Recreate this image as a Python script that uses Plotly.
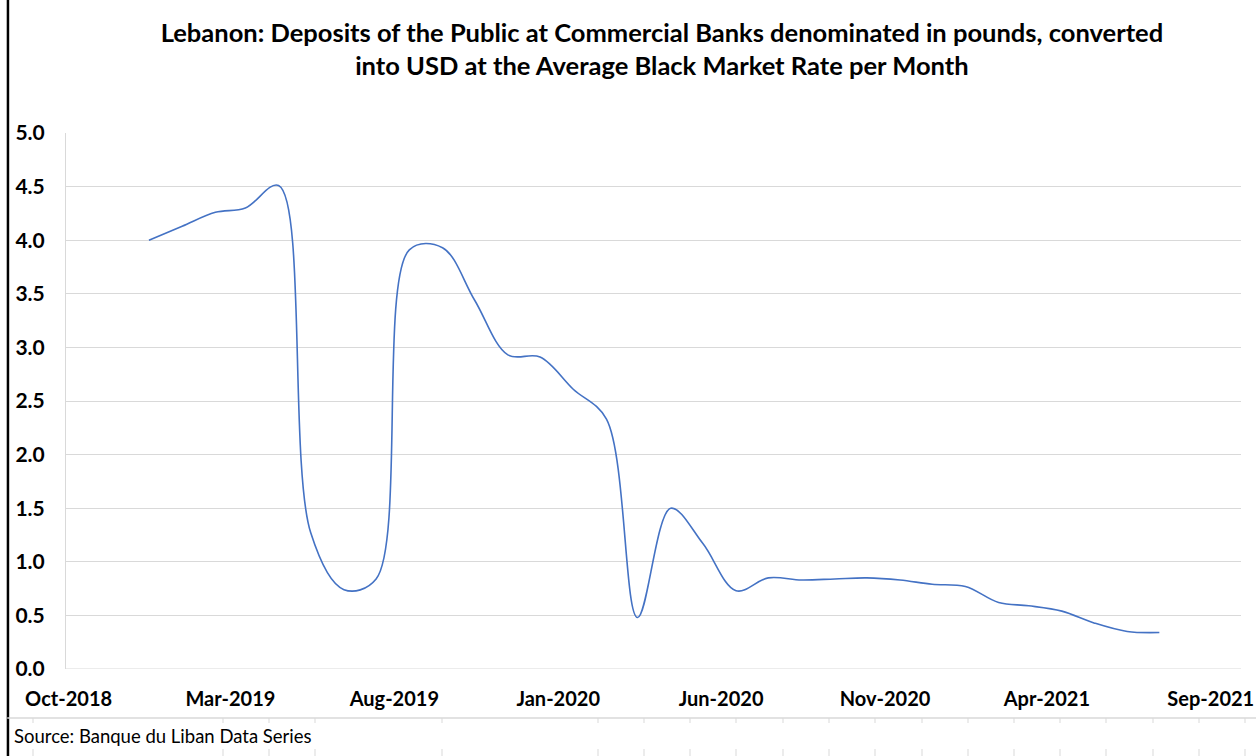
import pandas as pd
import plotly.graph_objects as go

# monthly observations, Dec-2018 .. Jul-2021 (USD bn)
months = pd.date_range("2018-12-01", "2021-07-01", freq="MS") + pd.Timedelta(days=14)
deposits_usd = [
    4.00, 4.13, 4.26, 4.30, 4.51, 1.27, 0.74, 0.84, 3.91, 3.93, 3.44, 2.93,
    2.91, 2.61, 2.33, 0.48, 1.50, 1.17, 0.73, 0.85, 0.83, 0.84, 0.85, 0.83,
    0.79, 0.77, 0.62, 0.59, 0.54, 0.43, 0.35, 0.34,
]

title_lines = [
    "Lebanon: Deposits of the Public at Commercial Banks denominated in pounds, converted",
    "into USD at the Average Black Market Rate per Month",
]
source_note = "Source: Banque du Liban Data Series"

FONT = "Lato"
GRID = "#d9d9d9"

fig = go.Figure()
fig.add_trace(go.Scatter(
    x=months, y=deposits_usd, mode="lines",
    line=dict(color="#4472c4", width=1.6, shape="spline", smoothing=1.0),
    hoverinfo="x+y", showlegend=False,
))

fig.update_layout(
    width=1256, height=756,
    margin=dict(l=66, r=15, t=133, b=87),
    paper_bgcolor="white", plot_bgcolor="white",
    font=dict(family=FONT, color="black"),
    title=dict(
        text="<b>" + "<br>".join(title_lines) + "</b>",
        x=0.527, xanchor="center", y=0.9446, yanchor="middle",
        font=dict(family=FONT, size=25.5, color="black"),
    ),
    xaxis=dict(
        type="date",
        range=["2018-09-28 14:00", "2021-09-29 05:00"],
        tick0="2018-10-01", dtick="M5", tickformat="%b-%Y",
        showgrid=False, zeroline=False, showline=False,
        ticks="outside", ticklen=12, tickcolor="rgba(0,0,0,0)",
        ticklabeloverflow="allow", automargin=False,
        tickfont=dict(family=FONT, size=20, color="black", weight="bold"),
    ),
    yaxis=dict(
        range=[0, 5], dtick=0.5, tickformat=".1f",
        showgrid=True, gridcolor=GRID, gridwidth=1,
        zeroline=False, showline=True, linecolor=GRID, linewidth=1,
        ticks="outside", ticklen=16, tickcolor="rgba(0,0,0,0)",
        automargin=False,
        tickfont=dict(family=FONT, size=21, color="black", weight="bold"),
    ),
)

# zero line as part of the grid
fig.add_shape(type="line", xref="paper", yref="y", x0=0, x1=1, y0=0, y1=0,
              line=dict(color=GRID, width=1))

fig.add_annotation(
    text=source_note, xref="paper", yref="paper",
    x=-0.0459, y=-0.125, xanchor="left", yanchor="middle", showarrow=False,
    font=dict(family=FONT, size=18.5, color="black"),
)

# sheet decoration: left frame edge and cell border under the chart
fig.add_shape(type="line", xref="paper", yref="paper",
              x0=-0.0494, x1=-0.0494, y0=-0.2, y1=1.3,
              line=dict(color="black", width=2.5))
fig.add_shape(type="line", xref="paper", yref="paper",
              x0=-0.05, x1=1.02, y0=-0.0914, y1=-0.0914,
              line=dict(color=GRID, width=1.5))

# spreadsheet column borders peeking out below the chart (pixel positions)
cell_cols = [33, 223, 269, 315, 442, 598, 644, 690, 736, 783, 829, 875,
             922, 968, 1014, 1060, 1106, 1153, 1199, 1245]
for px in cell_cols:
    xp = (px - 66) / 1175
    for y_top, y_bot in [(718, 723), (749, 760)]:
        fig.add_shape(type="line", xref="paper", yref="paper",
                      x0=xp, x1=xp, y0=(669 - y_top) / 536, y1=(669 - y_bot) / 536,
                      line=dict(color=GRID, width=1))

fig.write_html("out.html", config={"displayModeBar": False},
               post_script="document.body.style.margin='0';")
